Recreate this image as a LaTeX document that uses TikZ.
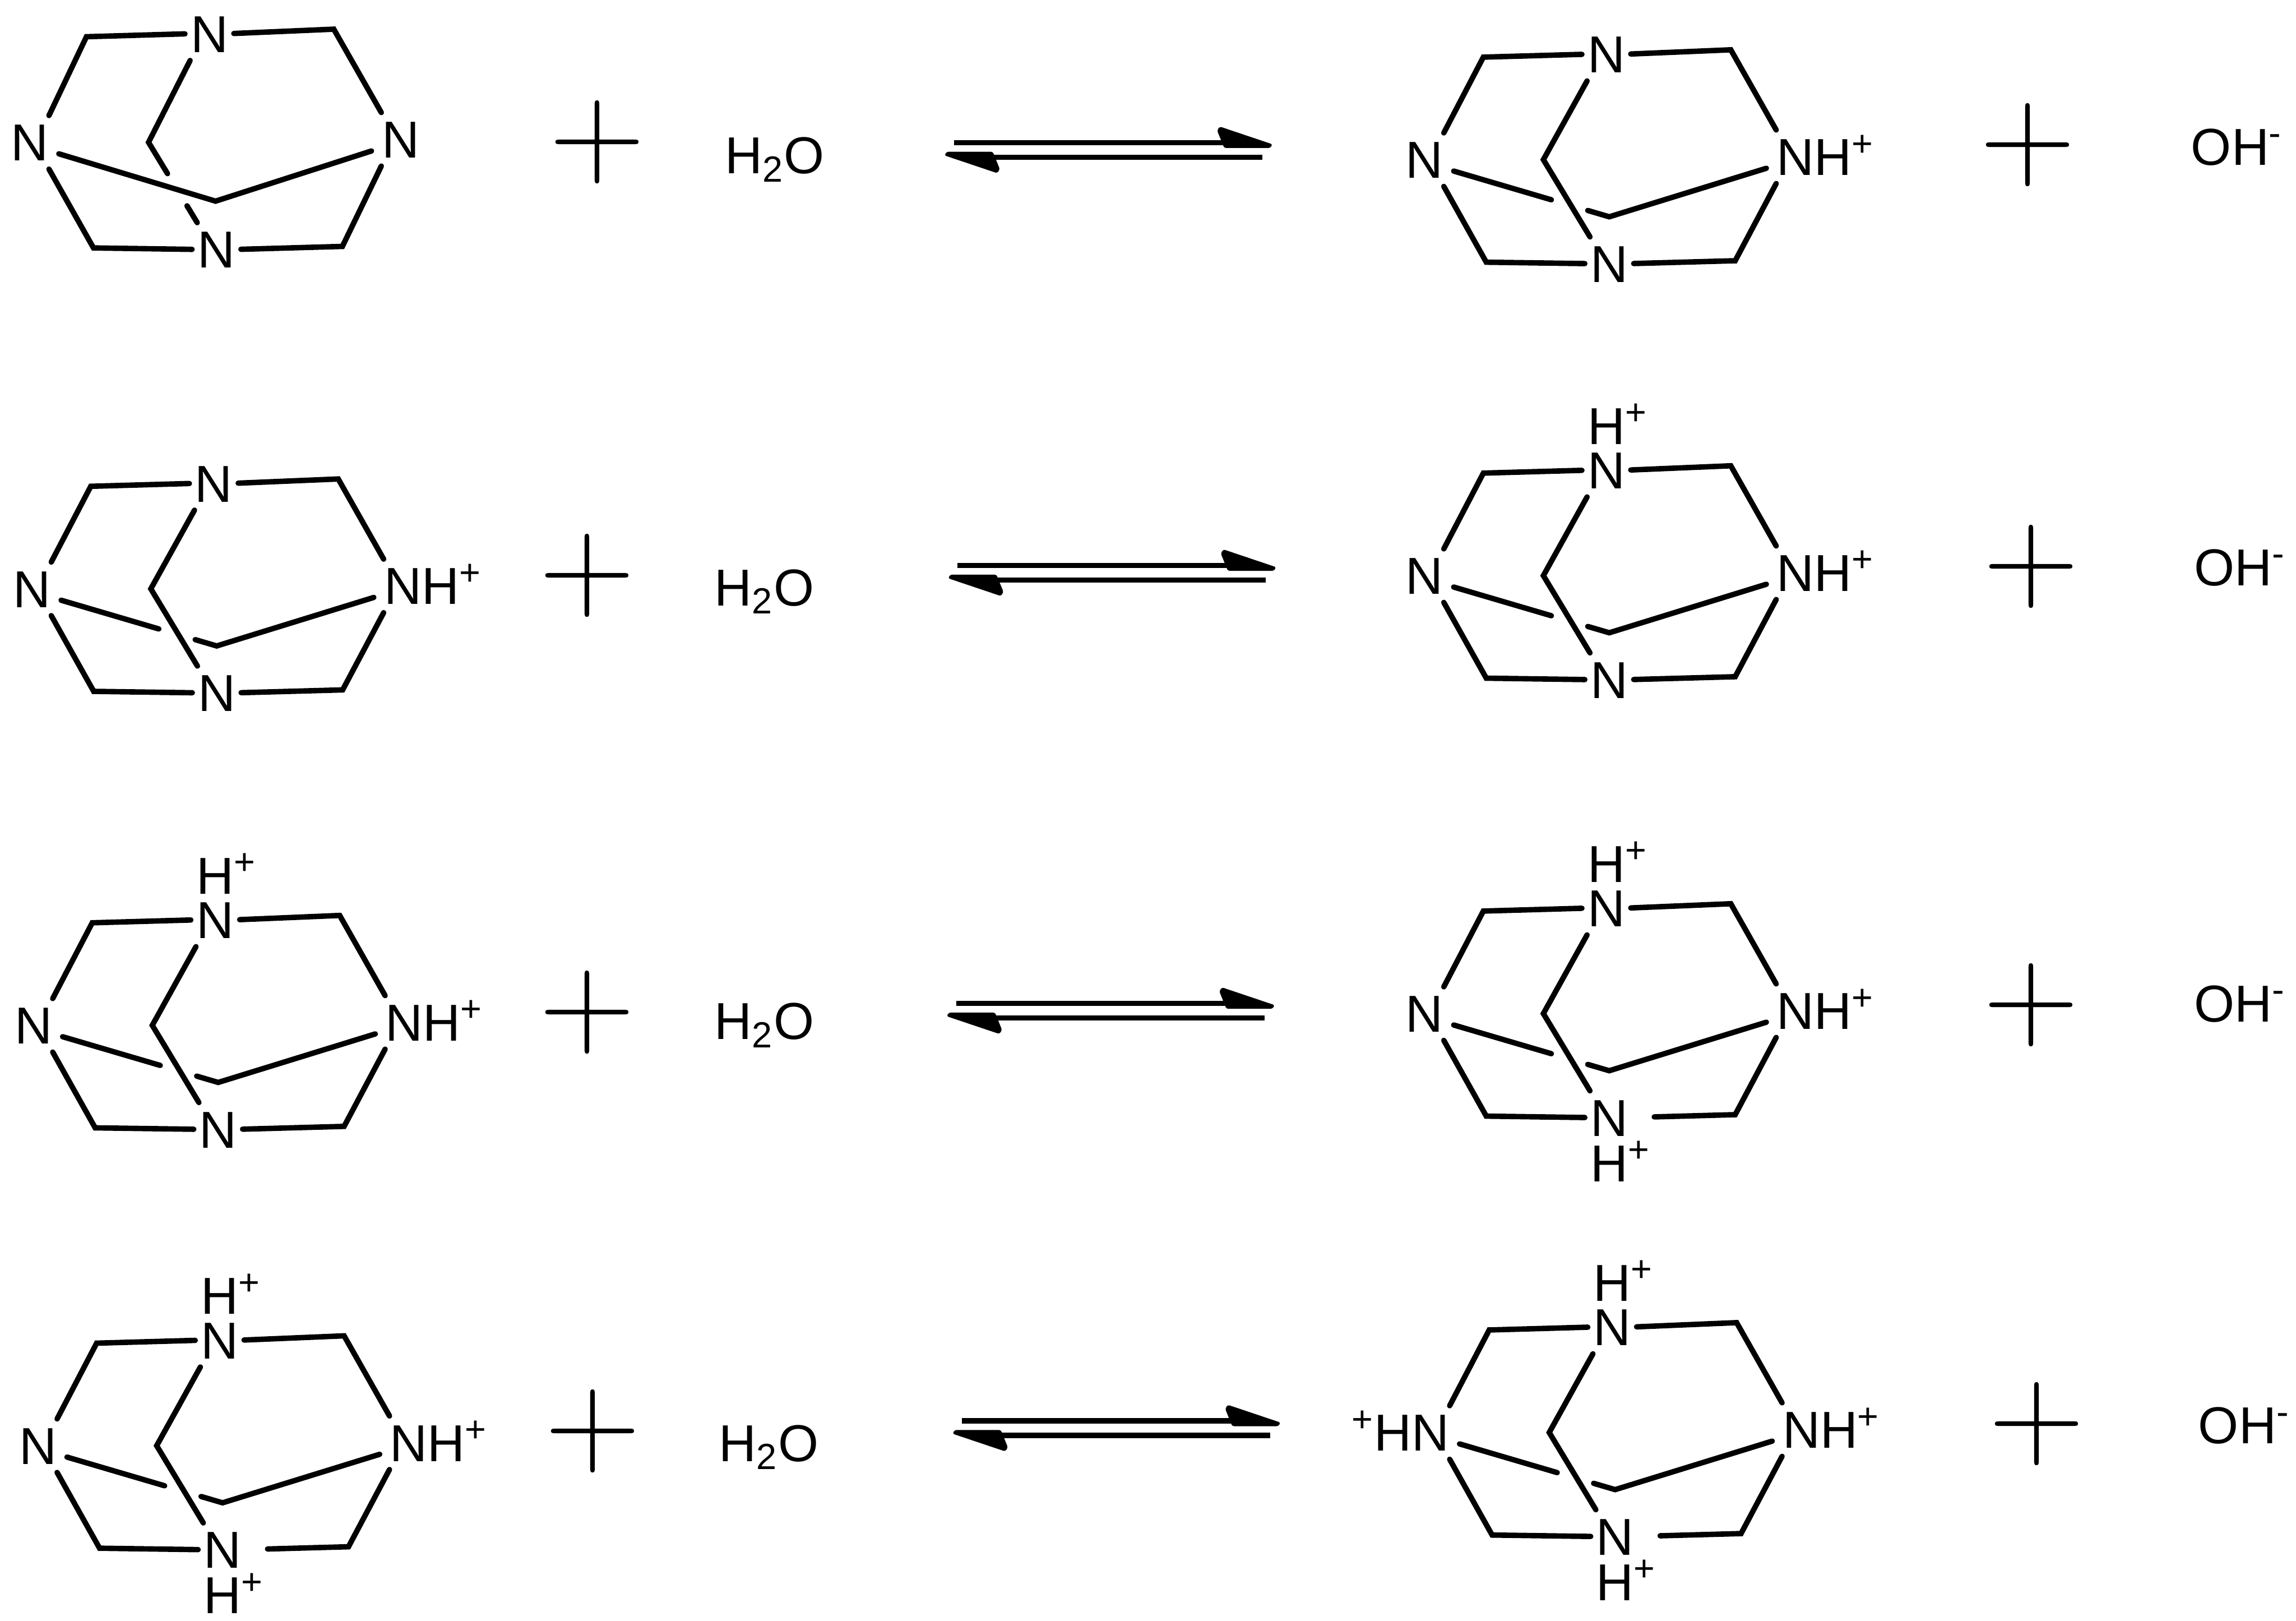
\documentclass[tikz,border=0pt]{standalone}
\usepackage{fontspec}
\setmainfont{Liberation Sans}
\newfontfamily\plusfont{Latin Modern Roman}
\usetikzlibrary{calc}
\tikzset{
	bond/.style={line width=2.1pt,line cap=round,line join=miter},
	atom/.style={inner xsep=0pt,inner ysep=3pt,text height=14.4pt,text depth=0pt,font=\fontsize{20.2}{22}\selectfont},
	hplus/.style={atom,inner ysep=0pt,anchor=south west},
	hminus/.style={atom,inner ysep=0pt,anchor=north west},
	plus/.style={inner sep=0pt,font=\plusfont\fontsize{51.5}{54}\selectfont},
	equil/.style={line width=2pt,shorten >=14pt},
	hhead/.pic={\fill[rounded corners=0.7pt] (0,1.2) -- (-1.5,3.7) -- (-33,3.7) -- (-37.8,-8.2) -- (-36,-10.9) -- cycle;}
}
% ring and labels of one cage: name, x, y, left, right, gap at lower right, options
\newcommand{\cage}[7]{
\begin{scope}[shift={(#2,#3)},#7]
\node[atom] (#1t) at (0,0) {N};
\node[atom,anchor=east] (#1l) at (-111,72) {#4};
\node[atom,anchor=west] (#1r) at (116,70) {#5};
\node[atom] (#1b) at (2,143) {N};
\coordinate (#1tl) at (-84,2);
\coordinate (#1tr) at (85,-3);
\coordinate (#1bl) at (-82,142);
\coordinate (#1br) at (88,141);
\coordinate (#1k) at (-43,72);
\coordinate (#1f) at (2,111);
\end{scope}
\coordinate (#1le) at ([yshift=-3.3pt]#1l.east);
\coordinate (#1rw) at ([yshift=-3.3pt]#1r.west);
\draw[bond,shorten >=2pt] (#1l.north east) -- (#1tl) -- (#1t.west);
\draw[bond,shorten <=2pt] (#1t.east) -- (#1tr) -- (#1r.north west);
\draw[bond,shorten >=2pt] (#1l.south east) -- (#1bl) -- (#1b.west);
\draw[bond,shorten <=#6] (#1b.east) -- (#1br) -- (#1r.south west);
}
\begin{document}
\begin{tikzpicture}[x=0.02cm,y=-0.02cm]
\useasboundingbox (0,0) rectangle (1568,1106.7);
\cage{ma}{143}{23}{N}{N}{2pt}{yscale=1.03,xslant=-0.02}
\draw[bond,shorten <=4pt,shorten >=4pt] (male) -- (maf) -- (marw);
\draw[bond] (mat.south west) -- (mak) -- ($(mak)!.39!(mab.north west)$);
\draw[bond] ($(mak)!.79!(mab.north west)$) -- (mab.north west);
\foreach \nm/\x/\y/\lft/\rgt/\gap in {
	mb/1097/37/N/{NH\textsuperscript{+}}/2pt,
	mc/146/330/N/{NH\textsuperscript{+}}/2pt,
	md/1097/321/N/{NH\textsuperscript{+}}/2pt,
	me/147/628/N/{NH\textsuperscript{+}}/2pt,
	mf/1097/620/N/{NH\textsuperscript{+}}/10pt,
	mg/150/915/N/{NH\textsuperscript{+}}/10pt,
	mh/1101/906/{\textsuperscript{+}HN}/{NH\textsuperscript{+}}/10pt}
{
	\cage{\nm}{\x}{\y}{\lft}{\rgt}{\gap}{}
	\draw[bond,shorten <=4pt] (\nm le) -- ($(\nm le)!.65!(\nm f)$);
	\draw[bond,shorten >=4pt] ($(\nm le)!.87!(\nm f)$) -- (\nm f) -- (\nm rw);
	\draw[bond] (\nm t.south west) -- (\nm k) -- (\nm b.north west);
}
\foreach \nm in {md,me,mf,mg,mh}
	\node[hplus] (\nm ht) at ([yshift=-0.5pt]\nm t.north west) {H\textsuperscript{+}};
\foreach \nm in {mf,mg,mh}
	\node[hminus] (\nm hb) at ([yshift=0.2pt]\nm b.south west) {H\textsuperscript{+}};
\foreach \n/\x/\y in {pa/408/97,pb/1385/99,pc/401/393,pd/1387/387,pe/401/691,pf/1387/686,pg/405/977,ph/1391/972}
	\node[plus] (\n) at (\x,\y) {+};
\foreach \n/\x/\y in {wa/529/106,wb/522/401,wc/522/697,wd/525/985}
	\node[atom] (\n) at (\x,\y) {H\textsubscript{2}O};
\foreach \n/\x/\y in {ha/1496/100,hb/1498/387,hc/1498/685,hd/1501/973}
	\node[atom,anchor=west] (\n) at (\x,\y) {OH\textsuperscript{-}};
\foreach \n/\x/\y in {ea/651.5/97.3,eb/654/386,ec/653/685,ed/657/970}
{
	\coordinate (\n s) at (\x,\y);
	\coordinate (\n e) at ($(\n s)+(217.5,0)$);
	\coordinate (\n u) at ($(\n s)+(210.5,10)$);
	\coordinate (\n v) at ($(\n s)+(-6.5,10)$);
	\draw[equil] (\n s) -- (\n e);
	\draw[equil] (\n u) -- (\n v);
	\pic at (\n e) {hhead};
	\pic[rotate=180] at (\n v) {hhead};
}
\end{tikzpicture}
\end{document}
